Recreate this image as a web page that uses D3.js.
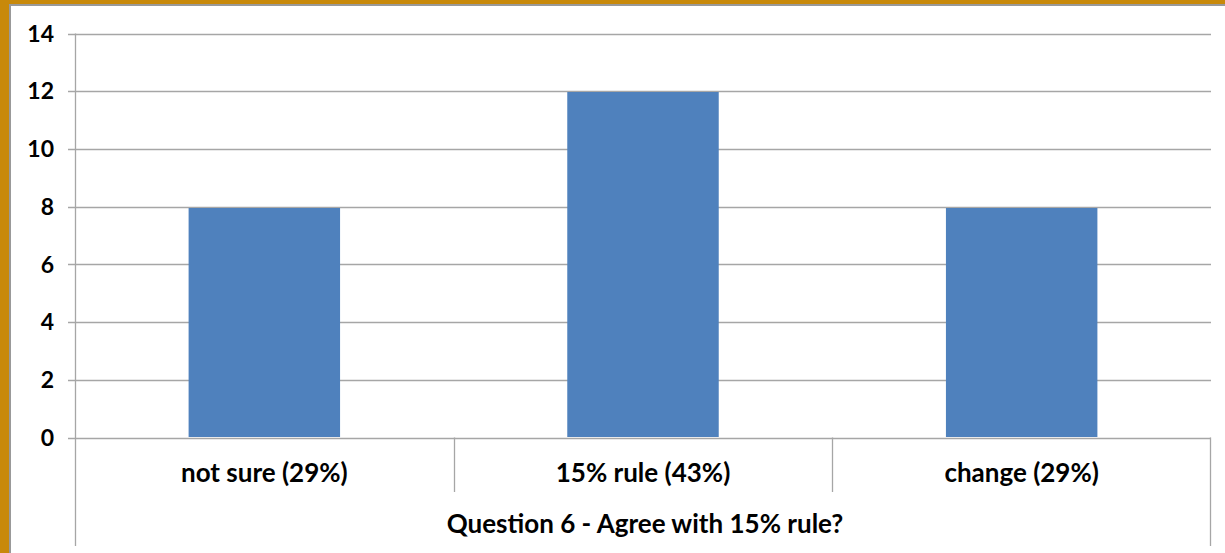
<!DOCTYPE html>
<html>
<head>
<meta charset="utf-8">
<script src="https://cdn.jsdelivr.net/npm/d3@7"></script>
<style>
  body { margin: 0; background: #fff; }
  svg text { font-family: Lato, "Open Sans", sans-serif; font-weight: bold; fill: #000; }
</style>
</head>
<body>
<svg id="chart" width="1225" height="553"></svg>
<script>
// data
const categories = ["not sure (29%)", "15% rule (43%)", "change (29%)"];
const counts = [8, 12, 8];
const yTicks = [0, 2, 4, 6, 8, 10, 12, 14];
const axisTitle = "Question 6 - Agree with 15% rule?";

const svg = d3.select("#chart");
const W = 1225, H = 553;

// frame border (orange + grey)
svg.append("rect").attr("x", 0).attr("y", 0).attr("width", W).attr("height", H).attr("fill", "#C8890A");
svg.append("rect").attr("x", 9).attr("y", 4).attr("width", W - 9).attr("height", H - 4).attr("fill", "#999");
svg.append("rect").attr("x", 11).attr("y", 6).attr("width", W - 11).attr("height", H - 6).attr("fill", "#fff");

const plotL = 75, plotR = 1211, plotT = 33.5, plotB = 437.5;

const x = d3.scaleBand()
  .domain(categories)
  .range([plotL, plotR])
  .paddingInner(0.6)
  .paddingOuter(0.3);

// separate scale for the category cells (no padding)
const xCell = d3.scaleBand().domain(categories).range([plotL, plotR]);

const y = d3.scaleLinear().domain([0, 14]).range([plotB, plotT]);

const gridColor = "#A6A6A6";

// gridlines + ticks
svg.append("g")
  .selectAll("line")
  .data(yTicks)
  .enter()
  .append("line")
  .attr("x1", 68)
  .attr("x2", plotR)
  .attr("y1", (d) => Math.round(y(d)) + 0.5)
  .attr("y2", (d) => Math.round(y(d)) + 0.5)
  .attr("stroke", gridColor)
  .attr("stroke-width", 1.3);

// y labels
svg.append("g")
  .selectAll("text")
  .data(yTicks)
  .enter()
  .append("text")
  .attr("x", 54)
  .attr("y", (d) => y(d))
  .attr("dy", "0.36em")
  .attr("text-anchor", "end")
  .attr("font-size", 23)
  .text((d) => d);

// bars
svg.append("g")
  .selectAll("rect")
  .data(categories)
  .enter()
  .append("rect")
  .attr("x", (d) => x(d))
  .attr("width", x.bandwidth())
  .attr("y", (d, i) => Math.round(y(counts[i])) + 1)
  .attr("height", (d, i) => plotB - Math.round(y(counts[i])) - 1.5)
  .attr("fill", "#4F81BD");

// left axis line extending to bottom
svg.append("line")
  .attr("x1", plotL + 0.5).attr("x2", plotL + 0.5)
  .attr("y1", plotT).attr("y2", 546)
  .attr("stroke", gridColor).attr("stroke-width", 1.3);

// right edge
svg.append("line")
  .attr("x1", plotR - 0.5).attr("x2", plotR - 0.5)
  .attr("y1", plotB).attr("y2", 546)
  .attr("stroke", gridColor).attr("stroke-width", 1.3);

// category separators
svg.append("g")
  .selectAll("line")
  .data(categories.slice(1))
  .enter()
  .append("line")
  .attr("x1", (d) => Math.round(xCell(d)) + 0.5)
  .attr("x2", (d) => Math.round(xCell(d)) + 0.5)
  .attr("y1", plotB)
  .attr("y2", 492)
  .attr("stroke", gridColor)
  .attr("stroke-width", 1.3);

// category labels
svg.append("g")
  .selectAll("text")
  .data(categories)
  .enter()
  .append("text")
  .attr("x", (d) => xCell(d) + xCell.bandwidth() / 2)
  .attr("y", 482)
  .attr("text-anchor", "middle")
  .attr("font-size", 26)
  .text((d) => d);

// axis title
svg.append("text")
  .attr("x", (plotL + plotR) / 2 + 2)
  .attr("y", 533)
  .attr("text-anchor", "middle")
  .attr("font-size", 26)
  .text(axisTitle);
</script>
</body>
</html>
